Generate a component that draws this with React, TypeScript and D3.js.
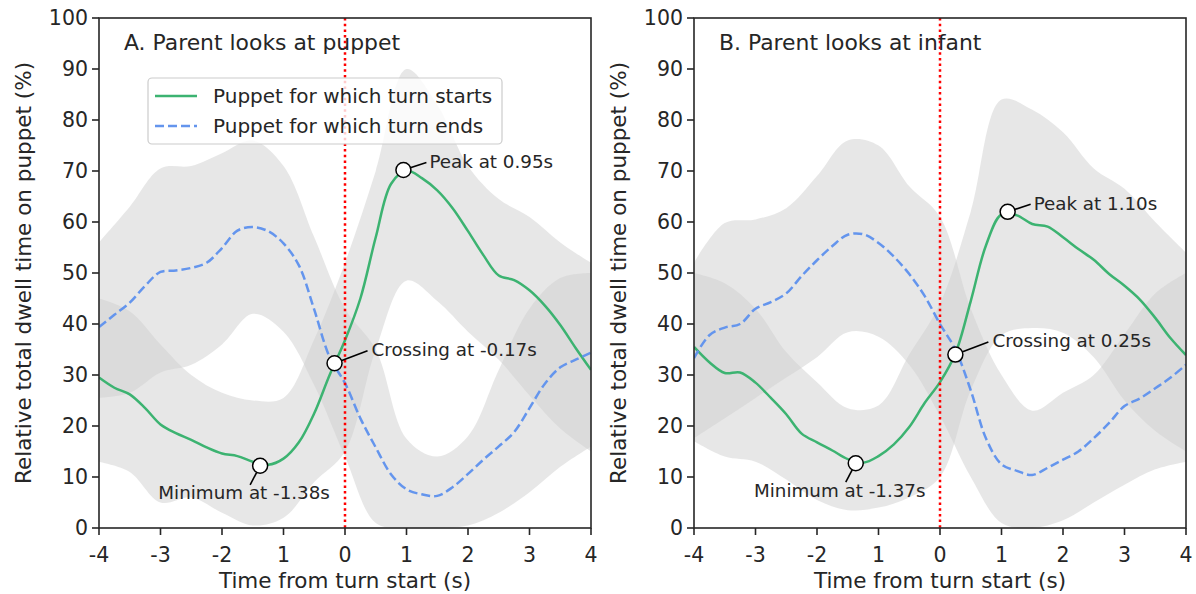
import React from 'react';
import * as d3 from 'd3';

// time grids (s)
const timeFine = [-4, -3.75, -3.5, -3.25, -3, -2.75, -2.5, -2.25, -2, -1.75, -1.5, -1.25, -1, -0.75, -0.5, -0.25, 0,
  0.25, 0.5, 0.75, 1, 1.25, 1.5, 1.75, 2, 2.25, 2.5, 2.75, 3, 3.25, 3.5, 3.75, 4];
const timeBand = [-4, -3.5, -3, -2.5, -2, -1.5, -1, -0.5, 0, 0.5, 1, 1.5, 2, 2.5, 3, 3.5, 4];

// A. Parent looks at puppet
const startsA = [29.5, 27.5, 26.2, 23.5, 20.3, 18.6, 17.3, 15.8, 14.6, 14.1, 13.0, 12.4, 13.6, 16.8, 22.5, 30.0, 36.8,
  45, 57, 67.5, 70.1, 68.6, 66.2, 62.7, 58.2, 53.5, 49.5, 48.6, 46.6, 43.6, 39.8, 35.3, 31];
const endsA = [39.4, 41.8, 44.2, 47.5, 50.2, 50.5, 51, 52, 54.9, 58.3, 59, 58.2, 55.8, 51.5, 42.8, 33.5, 28.4,
  21.5, 15.8, 10.5, 7.6, 6.6, 6.3, 8.0, 10.6, 13.4, 16, 18.8, 23.5, 28.3, 31.5, 33, 34.4];
const startsLoA = [13, 11, 5, 6, 3, 0.5, 2, 9, 15, 35, 48.5, 44.5, 38.5, 33, 26, 19.5, 15];
const startsHiA = [45, 42.5, 36, 30, 26.5, 25, 25.5, 37, 52, 70, 90, 83, 71, 64.5, 61, 56, 52];
const endsLoA = [25.5, 26.5, 30.5, 32, 36, 42, 38.5, 28, 14, 1, 0, 0, 0.5, 3, 7, 12, 16];
const endsHiA = [56, 63, 70.5, 71, 73.5, 76, 71, 57, 43, 35, 17.5, 14, 18, 31, 43, 49, 50];

// B. Parent looks at infant
const startsB = [35.5, 32.5, 30.4, 30.5, 28.5, 25.5, 22.3, 18.5, 16.8, 15.2, 13.5, 12.8, 14.1, 16.4, 19.8, 24.5, 28.6,
  34.2, 44.5, 55.5, 61.5, 61.3, 59.6, 59.1, 57, 54.7, 52.6, 49.8, 47.5, 44.8, 41.2, 37.2, 33.9];
const endsB = [33.3, 37.8, 39.3, 40, 43, 44.3, 46, 49.4, 52.5, 55.3, 57.5, 57.6, 55.9, 53.2, 49.8, 45.5, 40,
  35, 27, 17.5, 12.5, 11.2, 10.4, 11.8, 13.4, 15, 17.6, 20.6, 23.9, 25.4, 27.4, 29.5, 32];
const startsLoB = [17, 14, 13, 9.5, 5.5, 3.5, 4, 6, 10, 27, 37.8, 39.2, 38.3, 33.5, 25, 19, 15];
const startsHiB = [50, 48, 43, 34.5, 28.6, 23.5, 24, 34, 44, 62, 84, 82, 77.6, 70.5, 66.5, 60, 54];
const endsLoB = [17.6, 21.5, 25.5, 29.5, 33.5, 38.4, 37.5, 32, 22, 10, 1, 0, 1.5, 5, 8.5, 11.5, 13];
const endsHiB = [52, 59.8, 60.5, 62.7, 69, 76, 75, 67, 61, 43, 30, 23, 26.5, 30, 38, 46, 50];

const yTicks = [0, 10, 20, 30, 40, 50, 60, 70, 80, 90, 100];
const xTicks = [-4, -3, -2, -1, 0, 1, 2, 3, 4];
const xTickLabels = ['-4', '-3', '-2', '1', '0', '1', '2', '3', '4'];

const markersA = [
  { t: 0.95, v: 70.2, label: 'Peak at 0.95s', kind: 'right' },
  { t: -0.17, v: 32.3, label: 'Crossing at -0.17s', kind: 'cross' },
  { t: -1.38, v: 12.2, label: 'Minimum at -1.38s', kind: 'below' },
];
const markersB = [
  { t: 1.10, v: 62.0, label: 'Peak at 1.10s', kind: 'right' },
  { t: 0.25, v: 34.0, label: 'Crossing at 0.25s', kind: 'cross' },
  { t: -1.37, v: 12.7, label: 'Minimum at -1.37s', kind: 'below' },
];

const GREEN = '#3cb371';
const BLUE = '#6495ed';
const INK = '#262626';
const FONT = 'DejaVu Sans';

// label offsets in px: text position and connector end
const offsets: Record<string, { tx: number; ty: number; lx: number; ly: number; anchor: string }> = {
  right: { tx: 26, ty: -8.5, lx: 23, ly: -7.5, anchor: 'start' },
  cross: { tx: 37, ty: -14, lx: 33, ly: -12.5, anchor: 'start' },
  below: { tx: -16, ty: 27, lx: -10, ly: 19, anchor: 'middle' },
};

type PanelProps = {
  id: string;
  left: number;
  title: string;
  starts: number[];
  ends: number[];
  startsLo: number[];
  startsHi: number[];
  endsLo: number[];
  endsHi: number[];
  markers: { t: number; v: number; label: string; kind: string }[];
  legend?: boolean;
};

function Panel({ id, left, title, starts, ends, startsLo, startsHi, endsLo, endsHi, markers, legend }: PanelProps) {
  const top = 18;
  const bottom = 528;
  const w = 492;
  const x = d3.scaleLinear().domain([-4, 4]).range([left, left + w]);
  const y = d3.scaleLinear().domain([0, 100]).range([bottom, top]);

  const line = (vals: number[]) =>
    d3.line<number>().x((_, i) => x(timeFine[i])).y(d => y(d)).curve(d3.curveCatmullRom)(vals) || '';
  const band = (lo: number[], hi: number[]) =>
    d3.area<number>()
      .x((_, i) => x(timeBand[i]))
      .y0((_, i) => y(lo[i]))
      .y1(d => y(d))
      .curve(d3.curveCatmullRom)(hi) || '';

  return (
    <g fontFamily={FONT}>
      <defs>
        <clipPath id={`clip-${id}`}>
          <rect x={left} y={top} width={w} height={bottom - top} />
        </clipPath>
      </defs>
      <g clipPath={`url(#clip-${id})`}>
        <path d={band(startsLo, startsHi)} fill="#d0d0d0" fillOpacity={0.5} />
        <path d={band(endsLo, endsHi)} fill="#d0d0d0" fillOpacity={0.5} />
        <path d={line(starts)} fill="none" stroke={GREEN} strokeWidth={2.5} />
        <path d={line(ends)} fill="none" stroke={BLUE} strokeWidth={2.5} strokeDasharray="9,4" />
        <line x1={x(0)} x2={x(0)} y1={top} y2={bottom} stroke="red" strokeWidth={2.5} strokeDasharray="2.5,3.2" />
      </g>

      {markers.map(m => {
        const o = offsets[m.kind];
        const cx = x(m.t);
        const cy = y(m.v);
        return (
          <g key={m.label}>
            <line x1={cx} y1={cy} x2={cx + o.lx} y2={cy + o.ly} stroke="black" strokeWidth={1.6} />
            <circle cx={cx} cy={cy} r={7.5} fill="white" stroke="black" strokeWidth={1.5} />
            <text x={cx + o.tx} y={cy + o.ty} textAnchor={o.anchor} dominantBaseline="central"
              fontSize={18.3} fill={INK}>{m.label}</text>
          </g>
        );
      })}

      <rect x={left} y={top} width={w} height={bottom - top} fill="none" stroke={INK} strokeWidth={1.6} />

      {yTicks.map(t => (
        <g key={`y${t}`}>
          <line x1={left - 7} x2={left} y1={y(t)} y2={y(t)} stroke={INK} strokeWidth={1.6} />
          <text x={left - 11} y={y(t)} textAnchor="end" dominantBaseline="central" fontSize={20.5} fill={INK}>{t}</text>
        </g>
      ))}
      {xTicks.map((t, i) => (
        <g key={`x${t}`}>
          <line x1={x(t)} x2={x(t)} y1={bottom} y2={bottom + 7} stroke={INK} strokeWidth={1.6} />
          <text x={x(t)} y={bottom + 34} textAnchor="middle" fontSize={20.5} fill={INK}>{xTickLabels[i]}</text>
        </g>
      ))}

      <text x={left + w / 2} y={588} textAnchor="middle" fontSize={21.5} fill={INK}>Time from turn start (s)</text>
      <text transform={`translate(${left - 68},${(top + bottom) / 2}) rotate(-90)`} textAnchor="middle"
        fontSize={21.5} fill={INK}>Relative total dwell time on puppet (%)</text>
      <text x={left + 25} y={50} fontSize={21.9} fill={INK}>{title}</text>

      {legend && (
        <g>
          <rect x={148} y={78} width={354} height={66} rx={4} fill="white" fillOpacity={0.8} stroke="#cccccc" strokeWidth={1.2} />
          <line x1={155} x2={197} y1={96} y2={96} stroke={GREEN} strokeWidth={2.5} />
          <line x1={155} x2={197} y1={126} y2={126} stroke={BLUE} strokeWidth={2.5} strokeDasharray="9,4" />
          <text x={213} y={96} dominantBaseline="central" fontSize={20} fill={INK}>Puppet for which turn starts</text>
          <text x={213} y={126} dominantBaseline="central" fontSize={20} fill={INK}>Puppet for which turn ends</text>
        </g>
      )}
    </g>
  );
}

export default function App() {
  return (
    <svg width={1196} height={594} style={{ position: 'absolute', left: 0, top: 0, background: 'white' }}>
      <rect width={1196} height={594} fill="white" />
      <Panel id="a" left={99} title="A. Parent looks at puppet" starts={startsA} ends={endsA}
        startsLo={startsLoA} startsHi={startsHiA} endsLo={endsLoA} endsHi={endsHiA} markers={markersA} legend />
      <Panel id="b" left={694} title="B. Parent looks at infant" starts={startsB} ends={endsB}
        startsLo={startsLoB} startsHi={startsHiB} endsLo={endsLoB} endsHi={endsHiB} markers={markersB} />
    </svg>
  );
}
